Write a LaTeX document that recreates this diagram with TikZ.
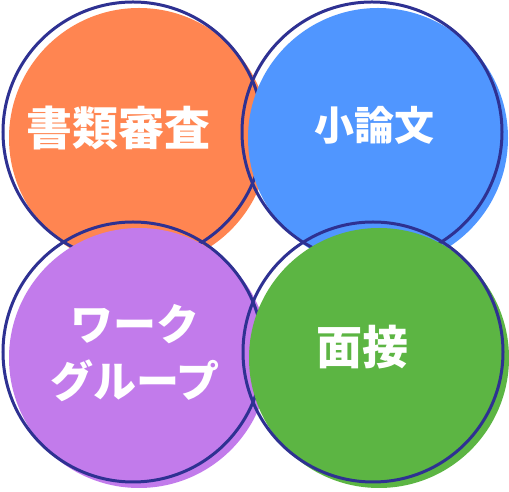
\documentclass[tikz,border=0pt]{standalone}
\usepackage{fontspec}
\newfontfamily\jpfont{Noto Sans CJK JP}
\usepackage{tikz}
\definecolor{rimblue}{RGB}{46,49,146}
\definecolor{orangefill}{RGB}{255,133,81}
\definecolor{bluefill}{RGB}{80,150,255}
\definecolor{purplefill}{RGB}{194,123,235}
\definecolor{greenfill}{RGB}{92,181,67}
\tikzset{
	disc/.style={fill=#1, draw=none},
	rim/.style={draw=rimblue, line width=3pt},
	word/.style={text=white, font=\jpfont\bfseries\fontsize{46}{52}\selectfont, inner sep=0pt},
	kana/.style={text=white, font=\jpfont\bfseries\fontsize{43}{56}\selectfont, inner sep=0pt}
}

\begin{document}
\begin{tikzpicture}[x=1pt, y=1pt]
		%%%%% START %%%%%
		\useasboundingbox (0, 0) rectangle (509, 492);
		
		\draw[disc=orangefill] (139, 354) circle (130);
		\draw[rim] (133, 360) circle (130);
		
		\draw[disc=bluefill] (378, 354) circle (130);
		\draw[rim] (372, 360) circle (130);
		
		\draw[disc=purplefill] (139, 134) circle (130);
		\draw[rim] (133, 140) circle (130);
		
		\draw[disc=greenfill] (379, 134) circle (130);
		\draw[rim] (373, 140) circle (130);
		
		\node[word] (shorui) at (119, 364) {書類審査};
		\node[word, font=\jpfont\bfseries\fontsize{40}{48}\selectfont] (shoronbun) at (374, 367) {小論文};
		\node[kana] (work) at (135, 168) {ワーク};
		\node[kana] (group) at (135, 111) {グループ};
		\node[word] (mensetsu) at (362, 145) {面接};
		
		%%%%% END %%%%%
	\end{tikzpicture}
\end{document}
